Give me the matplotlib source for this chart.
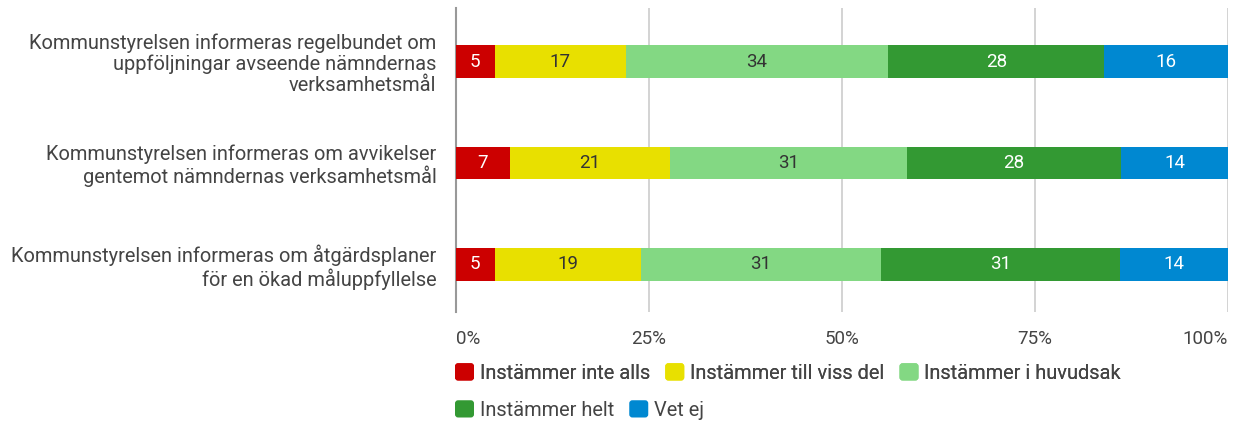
import numpy as np
import matplotlib.pyplot as plt
from matplotlib.patches import Patch, FancyBboxPatch
from matplotlib.legend_handler import HandlerPatch

plt.rcParams['font.family'] = ['Roboto', 'DejaVu Sans']

questions = [
    'Kommunstyrelsen informeras regelbundet om\nuppföljningar avseende nämndernas\nverksamhetsmål',
    'Kommunstyrelsen informeras om avvikelser\ngentemot nämndernas verksamhetsmål',
    'Kommunstyrelsen informeras om åtgärdsplaner\nför en ökad måluppfyllelse',
]
answers = ['Instämmer inte alls', 'Instämmer till viss del', 'Instämmer i huvudsak',
           'Instämmer helt', 'Vet ej']
inte_alls = [5, 7, 5]
viss_del = [17, 21, 19]
huvudsak = [34, 31, 31]
helt = [28, 28, 31]
vet_ej = [16, 14, 14]

colors = ['#cc0000', '#e8e000', '#83d883', '#339933', '#0088d1']
text_colors = ['white', '#333333', '#333333', 'white', 'white']
grey = '#444444'

series = np.array([inte_alls, viss_del, huvudsak, helt, vet_ej], dtype=float)
shares = series / series.sum(axis=0) * 100

fig = plt.figure(figsize=(12.34, 4.21), dpi=100)
ax = fig.add_axes([456 / 1234, 1 - 312 / 421, 772 / 1234, 304 / 421])

y = np.arange(len(questions))
left = np.zeros(len(questions))
for i in range(len(answers)):
    ax.barh(y, shares[i], left=left, height=0.32, color=colors[i], zorder=3)
    for j in range(len(questions)):
        ax.text(left[j] + shares[i, j] / 2, y[j], '%d' % series[i, j],
                ha='center', va='center', fontsize=13.5, color=text_colors[i], zorder=4)
    left += shares[i]

ax.set_xlim(0, 100)
ax.set_ylim(len(questions) - 0.53, -0.53)
ax.set_xticks([0, 25, 50, 75, 100])
ticklabels = ax.set_xticklabels(['0%', '25%', '50%', '75%', '100%'], fontsize=13.5, color=grey)
ticklabels[0].set_ha('left')
ticklabels[-1].set_ha('right')
ax.set_yticks(y)
ax.set_yticklabels(questions, fontsize=14.4, color=grey, linespacing=1.1)
ax.tick_params(axis='x', length=0, pad=13)
ax.tick_params(axis='y', length=0, pad=14)
ax.grid(axis='x', color='#cccccc', linewidth=1.2, zorder=0)
for s in ['top', 'right', 'bottom']:
    ax.spines[s].set_visible(False)
ax.spines['left'].set_color('#999999')
ax.spines['left'].set_linewidth(1.5)


def rounded_box(legend, orig_handle, xdescent, ydescent, width, height, fontsize):
    return FancyBboxPatch((-xdescent, -ydescent), width, height,
                          boxstyle='round,pad=0,rounding_size=%f' % (height * 0.18))


handles = [Patch(facecolor=c, edgecolor='none') for c in colors]
legend_opts = dict(loc='center left', frameon=False, fontsize=14.4, labelcolor=grey,
                   handlelength=0.95, handleheight=0.95, handletextpad=0.3,
                   columnspacing=0.75, borderpad=0, borderaxespad=0,
                   handler_map={Patch: HandlerPatch(patch_func=rounded_box)})
top_row = fig.legend(handles[:3], answers[:3], ncol=3,
                     bbox_to_anchor=(455 / 1234, 1 - 373 / 421), **legend_opts)
fig.add_artist(top_row)
fig.legend(handles[3:], answers[3:], ncol=2,
           bbox_to_anchor=(455 / 1234, 1 - 410 / 421), **legend_opts)

fig.savefig('out.png', dpi=100)
